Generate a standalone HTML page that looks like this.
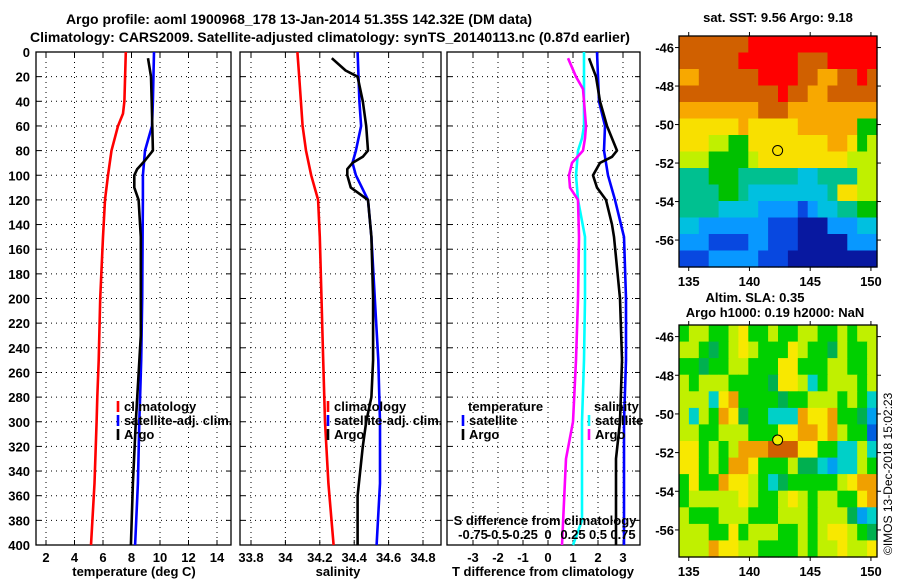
<!DOCTYPE html>
<html><head><meta charset="utf-8">
<style>
html,body{margin:0;padding:0;background:#fff;}
svg{display:block;font-family:"Liberation Sans",Arial,sans-serif;font-weight:bold;font-size:13px;}
</style></head>
<body>
<svg id="fig" width="900" height="580" viewBox="0 0 900 580">
<rect width="900" height="580" fill="#fff"/>
<text x="299" y="24" text-anchor="middle" font-size="14">Argo profile: aoml 1900968_178 13-Jan-2014 51.35S 142.32E (DM data)</text>
<text x="330" y="42" text-anchor="middle" font-size="14">Climatology: CARS2009. Satellite-adjusted climatology: synTS_20140113.nc (0.87d earlier)</text>
<text x="778" y="22" text-anchor="middle">sat. SST: 9.56 Argo: 9.18</text>
<text x="755" y="302" text-anchor="middle">Altim. SLA: 0.35</text>
<text x="775" y="317" text-anchor="middle">Argo h1000: 0.19 h2000: NaN</text>
<text transform="translate(892,555) rotate(-90)" font-weight="normal" font-size="12">©IMOS 13-Dec-2018 15:02:23</text>
<g id="g"></g>
</svg>
<script>
// ---------- data ----------
const depthTicks=[0,20,40,60,80,100,120,140,160,180,200,220,240,260,280,300,320,340,360,380,400];
const tTicks=[2,4,6,8,10,12,14];
const sTicks=[33.8,34,34.2,34.4,34.6,34.8];
const sTickLabels=["33.8","34","34.2","34.4","34.6","34.8"];
const dtTicks=[-3,-2,-1,0,1,2,3];
const dsTicks=[-0.75,-0.5,-0.25,0,0.25,0.5,0.75];
const dsTickLabels=["-0.75","-0.5","-0.25","0","0.25","0.5","0.75"];
const climTDepth=[0,20,40,50,60,80,100,120,150,200,250,280,300,350,400];
const climT=[7.6,7.55,7.5,7.4,7.05,6.6,6.35,6.14,6.0,5.8,5.7,5.6,5.55,5.4,5.16];
const satTDepth=[0,40,60,80,100,120,150,200,250,280,300,350,400];
const satT=[9.58,9.5,9.44,8.95,8.8,8.8,8.78,8.75,8.68,8.6,8.55,8.45,8.25];
const argoTDepth=[5,20,40,80,88,95,100,110,120,150,230,300,350,400];
const argoT=[9.16,9.37,9.42,9.5,8.95,8.4,8.2,8.2,8.5,8.65,8.65,8.3,8.1,7.96];
const climSDepth=[0,20,40,60,80,100,120,150,200,250,300,350,400];
const climS=[34.07,34.08,34.09,34.10,34.12,34.15,34.19,34.2,34.21,34.22,34.23,34.25,34.28];
const satSDepth=[0,40,60,80,90,100,120,150,200,250,300,350,400];
const satS=[34.42,34.43,34.44,34.41,34.39,34.41,34.48,34.5,34.52,34.54,34.55,34.55,34.53];
const argoSDepth=[5,15,20,40,60,80,85,90,95,100,110,120,150,200,250,280,300,320,360,400];
const argoS=[34.27,34.35,34.42,34.45,34.47,34.48,34.45,34.39,34.36,34.36,34.38,34.48,34.50,34.51,34.51,34.50,34.47,34.45,34.42,34.42];
const dTsatDepth=[0,40,60,80,100,120,150,200,250,300,400];
const dTsat=[1.96,2.04,2.28,2.24,2.4,2.68,3.04,3.12,3.12,3.04,3.04];
const dTargoDepth=[5,20,40,60,80,85,90,100,110,120,140,150,200,250,300,330,400];
const dTargo=[1.64,1.92,2.08,2.36,2.76,2.56,2.08,1.8,1.96,2.32,2.56,2.64,2.88,2.96,2.88,2.72,2.72];
const dSsatDepth=[0,40,60,70,80,100,120,150,200,250,300,380,400];
const dSsat=[.36,.36,.36,.34,.30,.28,.30,.37,.37,.36,.34,.34,.25];
const dSargoDepth=[5,20,30,40,60,70,80,90,100,110,120,150,200,250,300,330,400];
const dSargo=[.20,.28,.35,.36,.38,.37,.35,.24,.21,.22,.30,.31,.30,.28,.25,.18,.14];
const lonTicks=[135,140,145,150];
const latTicks=[-46,-48,-50,-52,-54,-56];
const sstRows=[
"9999999aaaaaaaaaaaaa","999999aaaaaa999aaaaa","88999999aaaa998899a9","9999999999a998899999",
"88888888999888888888","77777787777788888855","77766557777777788756","66655556777777777666",
"44455544444433444466","44445543333333347766","44443333222212334455","33222222211100022233",
"22211112211100000222","11122222111000000000"];
const slaRows=[
"56655675565566556566","66545676555765546556","55455665557755566556","65666555547763566656",
"66637855554556665653","63658745533387785542","66556665557788786551","77565688899977553363",
"77565887555644323365","57558776534555556788","56666676556765665578","65556665556665666423",
"66655756665565677654","66687766555565667667"];
const sstColors=["#0818a0","#0848e0","#0898ff","#00c0e0","#00c090","#00c000","#c0f000","#f8e000","#f8a800","#d06000","#ff0000"];
const slaColors=["#002080","#0060e0","#00a0f0","#00d0c8","#00b050","#00d000","#c0f000","#f8e800","#f0a000","#d06000"];
const argoLon=142.32, argoLat=-51.35;

// ---------- helpers ----------
const NS="http://www.w3.org/2000/svg";
const G=document.getElementById('g');
function mk(tag,at,parent){const e=document.createElementNS(NS,tag);for(const k in at)e.setAttribute(k,at[k]);(parent||G).appendChild(e);return e;}
function txt(x,y,s,anchor,parent){const e=mk('text',{x:x,y:y,'text-anchor':anchor||'middle'},parent);e.textContent=s;return e;}
const Y0=52,Y1=545;
function yD(d){return Y0+(Y1-Y0)*d/400;}

function panel(name,x0,x1,xs,ticks,labels,showY){
  const g=mk('g',{});
  
  
  ticks.forEach((t,i)=>{
    const x=xs(t);
    const gl=mk('line',{x1:x,x2:x,y1:Y0,y2:Y1,stroke:'#000','stroke-width':1,'stroke-dasharray':'1,4'},g);
    
    
    mk('line',{x1:x,x2:x,y1:Y1,y2:Y1-5,stroke:'#000'},g);
    mk('line',{x1:x,x2:x,y1:Y0,y2:Y0+5,stroke:'#000'},g);
    if(labels){const t2=txt(x,562,labels[i],'middle',g);
      
      }
  });
  depthTicks.forEach(d=>{
    const y=yD(d);
    if(d>0&&d<400){const gl=mk('line',{x1:x0,x2:x1,y1:y,y2:y,stroke:'#000','stroke-width':1,'stroke-dasharray':'1,4'},g);
      
      }
    mk('line',{x1:x0,x2:x0+5,y1:y,y2:y,stroke:'#000'},g);
    mk('line',{x1:x1,x2:x1-5,y1:y,y2:y,stroke:'#000'},g);
    if(showY){const t=txt(30,y+5,String(d),'end',g);
      
      }
  });
  const fr=mk('rect',{x:x0,y:Y0,width:x1-x0,height:Y1-Y0,fill:'none',stroke:'#000','stroke-width':1.3},g);
  
  
  return g;
}
function series(name,depths,vals,xs,color){
  const pts=depths.map((d,i)=>xs(vals[i]).toFixed(1)+','+yD(d).toFixed(1)).join(' ');
  const p=mk('polyline',{points:pts,fill:'none',stroke:color,'stroke-width':2.6,'stroke-linejoin':'round'});
  
  
}
function legendEntry(name,x,y,color,label){
  const g=mk('g',{});
  
  
  mk('line',{x1:x,x2:x,y1:y-10,y2:y+1,stroke:color,'stroke-width':2.6},g);
  txt(x+6,y,label,'start',g);
}

// ---------- panel 1: temperature ----------
const xT=v=>46+(v-2)*14.25;
panel('temperature-panel',36,231,xT,tTicks,tTicks.map(String),true);
series('climatology-temperature-line',climTDepth,climT,xT,'#ff0000');
series('satellite-temperature-line',satTDepth,satT,xT,'#0000ff');
series('argo-temperature-line',argoTDepth,argoT,xT,'#000');
let t=txt(134,576,'temperature (deg C)');


legendEntry('legend-climatology',118,411,'#ff0000','climatology');
legendEntry('legend-satellite-adj',118,425,'#0000ff','satellite-adj. clim.');
legendEntry('legend-argo',118,439,'#000','Argo');

// ---------- panel 2: salinity ----------
const xS=v=>251+(v-33.8)*172;
panel('salinity-panel',240,441,xS,sTicks,sTickLabels,false);
series('climatology-salinity-line',climSDepth,climS,xS,'#ff0000');
series('satellite-salinity-line',satSDepth,satS,xS,'#0000ff');
series('argo-salinity-line',argoSDepth,argoS,xS,'#000');
t=txt(338,576,'salinity');


legendEntry('legend-climatology-s',328,411,'#ff0000','climatology');
legendEntry('legend-satellite-adj-s',328,425,'#0000ff','satellite-adj. clim.');
legendEntry('legend-argo-s',328,439,'#000','Argo');

// ---------- panel 3: differences ----------
const xDT=v=>548+v*25;
const xDS=v=>548+v*100;
panel('difference-panel',447,640,xDT,dtTicks,dtTicks.map(String),false);
series('satellite-temperature-diff-line',dTsatDepth,dTsat,xDT,'#0000ff');
series('argo-temperature-diff-line',dTargoDepth,dTargo,xDT,'#000');
series('satellite-salinity-diff-line',dSsatDepth,dSsat,xDS,'#00ffff');
series('argo-salinity-diff-line',dSargoDepth,dSargo,xDS,'#ff00ff');
t=txt(543,576,'T difference from climatology');


t=txt(545,525,'S difference from climatology');


dsTicks.forEach((v,i)=>{const e=txt(xDS(v),539,dsTickLabels[i]);
  
  });
t=txt(468,411,'temperature','start');


legendEntry('legend-t-satellite',463,425,'#0000ff','satellite');
legendEntry('legend-t-argo',463,439,'#000','Argo');
t=txt(594,411,'salinity','start');


legendEntry('legend-s-satellite',589,425,'#00ffff','satellite');
legendEntry('legend-s-argo',589,439,'#ff00ff','Argo');

// ---------- maps ----------
const MX0=679,MX1=877,LON0=134.2,LON1=150.5,LAT0=-45.4,LAT1=-57.4;
function map(name,top,bot,rows,colors,markerFill){
  const g=mk('g',{});
  
  
  const xl=v=>MX0+(v-LON0)/(LON1-LON0)*(MX1-MX0);
  const yl=v=>top+(v-LAT0)/(LAT1-LAT0)*(bot-top);
  const nr=rows.length,nc=rows[0].length;
  const dLon=(LON1-LON0)/nc,dLat=(LAT1-LAT0)/nr;
  rows.forEach((row,r)=>{
    for(let c=0;c<nc;c++){
      const lv=parseInt(row[c],16);
      const x=xl(LON0+c*dLon),y=yl(LAT0+r*dLat);
      const cell=mk('rect',{x:x.toFixed(1),y:y.toFixed(1),width:(xl(LON0+(c+1)*dLon)-x+0.6).toFixed(1),height:(yl(LAT0+(r+1)*dLat)-y+0.6).toFixed(1),fill:colors[lv]},g);
      
      
    }
  });
  mk('rect',{x:MX0,y:top,width:MX1-MX0,height:bot-top,fill:'none',stroke:'#000','stroke-width':1.3},g);
  lonTicks.forEach(v=>{
    const x=xl(v);
    mk('line',{x1:x,x2:x,y1:bot,y2:bot+4,stroke:'#000'},g);
    mk('line',{x1:x,x2:x,y1:top,y2:top-4,stroke:'#000'},g);
    const e=txt(x,bot+19,String(v),'middle',g);
    
    
  });
  latTicks.forEach(v=>{
    const y=yl(v);
    mk('line',{x1:MX0,x2:MX0-4,y1:y,y2:y,stroke:'#000'},g);
    mk('line',{x1:MX1,x2:MX1+4,y1:y,y2:y,stroke:'#000'},g);
    const e=txt(MX0-5,y+5,String(v),'end',g);
    
    
  });
  const m=mk('circle',{cx:xl(argoLon),cy:yl(argoLat),r:5,fill:markerFill,stroke:'#000','stroke-width':1},g);
  
  
}
map('sst-map',36,267,sstRows,sstColors,'none');
map('sla-map',325,557,slaRows,slaColors,'#f0f000');
</script>
</body></html>
